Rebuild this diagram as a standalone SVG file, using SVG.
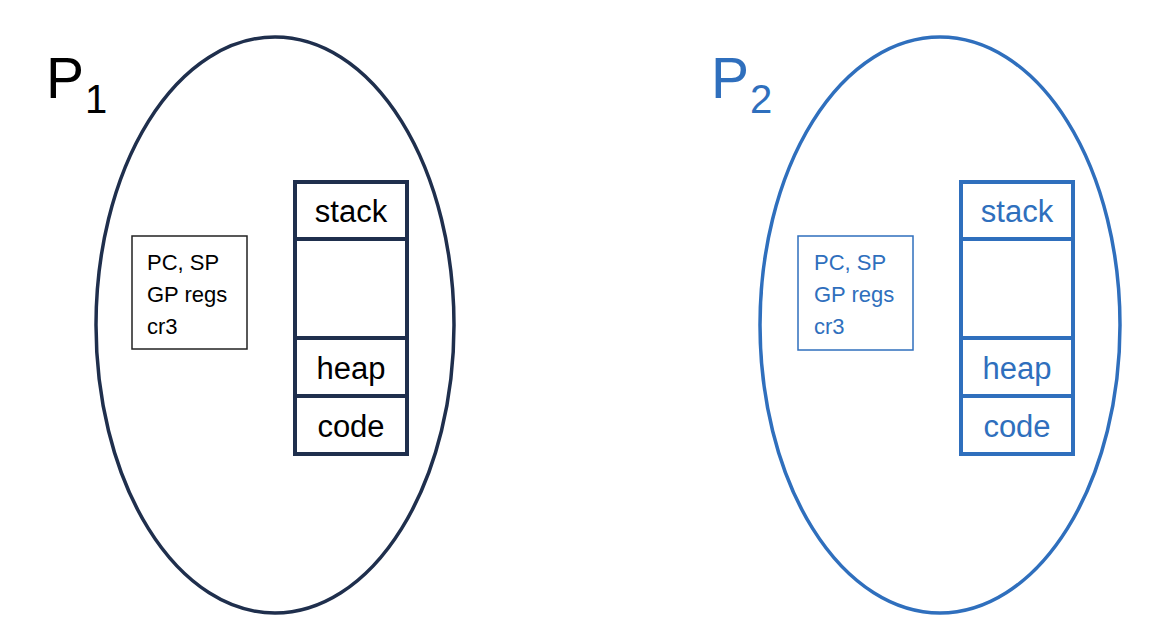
<svg xmlns="http://www.w3.org/2000/svg" width="1170" height="644" viewBox="0 0 1170 644">
<style>
text{font-family:"Liberation Sans",Arial,sans-serif}
.big{font-size:57px}
.sub{font-size:40px}
.seg{font-size:31px;text-anchor:middle}
.reg{font-size:22px}
.p1 .ell{fill:none;stroke:#1f2f4d;stroke-width:3.5}
.p1 .col{fill:#fff;stroke:#1f2f4d;stroke-width:4}
.p1 .box{fill:#fff;stroke:#222;stroke-width:1.5}
.p1 text{fill:#000}
.p2 .ell{fill:none;stroke:#2f6fbd;stroke-width:3.5}
.p2 .col{fill:#fff;stroke:#2f6fbd;stroke-width:4}
.p2 .box{fill:#fff;stroke:#2f6fbd;stroke-width:1.5}
.p2 text{fill:#2f6fbd}
</style>
<rect width="1170" height="644" fill="#fff"/>
<g id="P1" class="p1">
  <ellipse class="ell" cx="275" cy="325" rx="179" ry="288"/>
  <text class="big" x="46" y="98">P</text>
  <text class="sub" x="85" y="113">1</text>
  <g id="P1-regs">
    <rect class="box" x="132" y="236" width="115" height="113"/>
    <text class="reg" x="147" y="270">PC, SP</text>
    <text class="reg" x="147" y="302">GP regs</text>
    <text class="reg" x="147" y="334">cr3</text>
  </g>
  <g id="P1-mem">
    <rect class="col" x="295" y="182" width="112" height="57"/>
    <rect class="col" x="295" y="239" width="112" height="99"/>
    <rect class="col" x="295" y="338" width="112" height="58"/>
    <rect class="col" x="295" y="396" width="112" height="58"/>
    <text class="seg" x="351" y="222">stack</text>
    <text class="seg" x="351" y="379">heap</text>
    <text class="seg" x="351" y="437">code</text>
  </g>
</g>
<g id="P2" class="p2">
  <ellipse class="ell" cx="940" cy="325" rx="180" ry="288"/>
  <text class="big" x="711" y="98">P</text>
  <text class="sub" x="750" y="113">2</text>
  <g id="P2-regs">
    <rect class="box" x="798" y="236" width="115" height="114"/>
    <text class="reg" x="814" y="270">PC, SP</text>
    <text class="reg" x="814" y="302">GP regs</text>
    <text class="reg" x="814" y="334">cr3</text>
  </g>
  <g id="P2-mem">
    <rect class="col" x="961" y="182" width="112" height="57"/>
    <rect class="col" x="961" y="239" width="112" height="99"/>
    <rect class="col" x="961" y="338" width="112" height="58"/>
    <rect class="col" x="961" y="396" width="112" height="58"/>
    <text class="seg" x="1017" y="222">stack</text>
    <text class="seg" x="1017" y="379">heap</text>
    <text class="seg" x="1017" y="437">code</text>
  </g>
</g>
<g id="connectors"></g>
</svg>
